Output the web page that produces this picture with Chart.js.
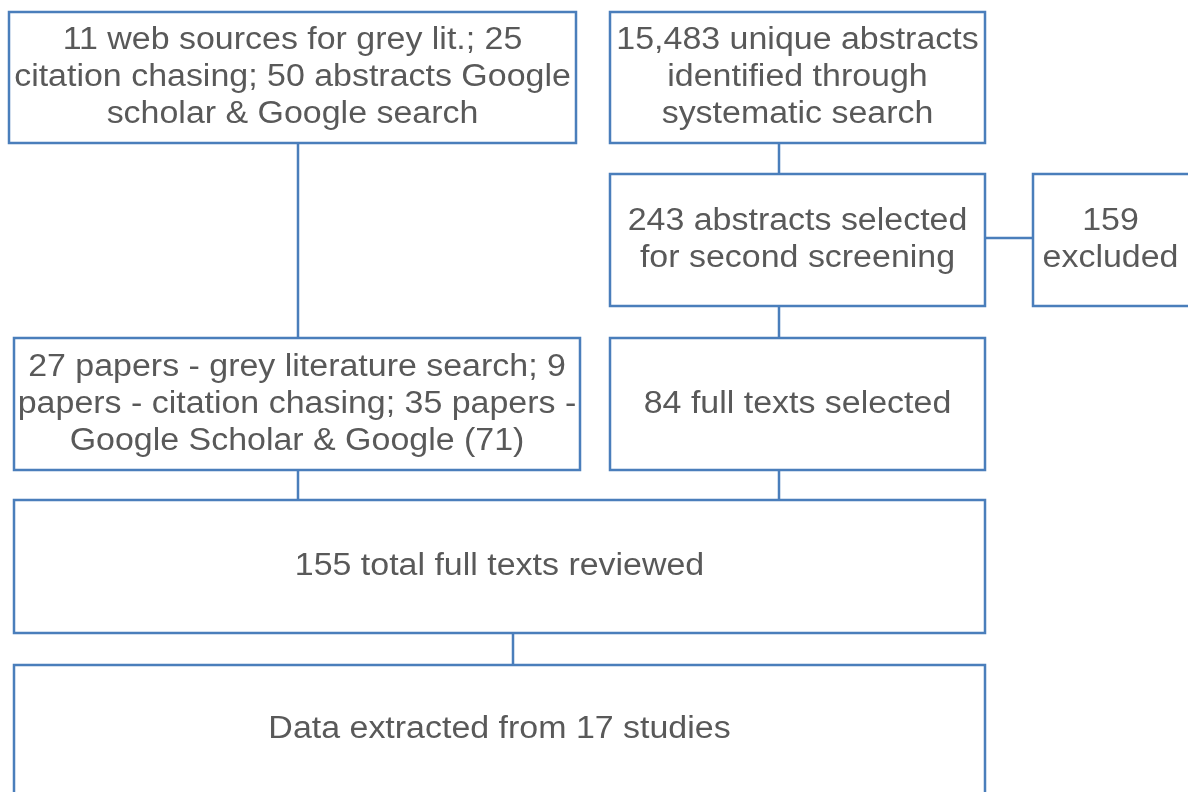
<!DOCTYPE html>
<html>
<head>
<meta charset="utf-8">
<script src="https://cdn.jsdelivr.net/npm/chart.js@4/dist/chart.umd.min.js"></script>
<style>
  html, body { margin: 0; padding: 0; background: #fff; }
  #flow { display: block; }
</style>
</head>
<body>
<canvas id="flow" width="1188" height="792"></canvas>
<script>
// flow boxes: text lines
var boxText = [
    ['11 web sources for grey lit.; 25', 'citation chasing; 50 abstracts Google', 'scholar & Google search'],
    ['15,483 unique abstracts', 'identified through', 'systematic search'],
    ['243 abstracts selected', 'for second screening'],
    ['159', 'excluded'],
    ['27 papers - grey literature search; 9', 'papers - citation chasing; 35 papers -', 'Google Scholar & Google (71)'],
    ['84 full texts selected'],
    ['155 total full texts reviewed'],
    ['Data extracted from 17 studies']
];
// box extents in page units (0..1188 across, 0..792 down)
var boxLeft   = [9,   610, 610, 1033, 14,  610, 14,  14];
var boxRight  = [576, 985, 985, 1192, 580, 985, 985, 985];
var boxTop    = [12,  12,  174, 174,  338, 338, 500, 665];
var boxBottom = [143, 143, 306, 306,  470, 470, 633, 794];

// connectors [x1, y1, x2, y2]
var links = [
    [298, 143, 298, 338],
    [779, 143, 779, 174],
    [985, 238, 1033, 238],
    [779, 306, 779, 338],
    [298, 470, 298, 500],
    [779, 470, 779, 500],
    [513, 633, 513, 665]
];

var blue = '#4a7ebb';
var datasets = [];
boxText.forEach(function (t, i) {
    datasets.push({
        data: [
            {x: boxLeft[i], y: boxTop[i]},
            {x: boxRight[i], y: boxTop[i]},
            {x: boxRight[i], y: boxBottom[i]},
            {x: boxLeft[i], y: boxBottom[i]},
            {x: boxLeft[i], y: boxTop[i]}
        ],
        showLine: true,
        borderColor: blue,
        borderWidth: 2.5,
        borderCapStyle: 'square',
        borderJoinStyle: 'miter',
        pointRadius: 0,
        fill: false
    });
});
links.forEach(function (l) {
    datasets.push({
        data: [{x: l[0], y: l[1]}, {x: l[2], y: l[3]}],
        showLine: true,
        borderColor: blue,
        borderWidth: 2.5,
        pointRadius: 0,
        fill: false
    });
});

var boxLabels = {
    id: 'boxLabels',
    afterDatasetsDraw: function (chart) {
        var ctx = chart.ctx;
        var xs = chart.scales.x, ys = chart.scales.y;
        ctx.save();
        ctx.fillStyle = '#595959';
        ctx.font = '31px "Liberation Sans", Arial, sans-serif';
        ctx.textAlign = 'center';
        ctx.textBaseline = 'middle';
        var lh = 37;
        boxText.forEach(function (lines, i) {
            var right = Math.min(boxRight[i], 1188);
            var cx = xs.getPixelForValue((boxLeft[i] + right) / 2);
            var cy = ys.getPixelForValue((boxTop[i] + boxBottom[i]) / 2);
            var y0 = cy - (lines.length - 1) * lh / 2;
            lines.forEach(function (s, k) {
                ctx.save();
                ctx.translate(cx, y0 + k * lh);
                ctx.scale(1.095, 1); // text in the source is drawn a little wide
                ctx.fillText(s, 0, 0);
                ctx.restore();
            });
        });
        ctx.restore();
    }
};

new Chart(document.getElementById('flow').getContext('2d'), {
    type: 'scatter',
    data: {datasets: datasets},
    options: {
        responsive: false,
        animation: false,
        layout: {padding: 0},
        plugins: {legend: {display: false}, tooltip: {enabled: false}},
        scales: {
            x: {type: 'linear', min: 0, max: 1188, display: false},
            y: {type: 'linear', min: 0, max: 792, reverse: true, display: false}
        }
    },
    plugins: [boxLabels]
});
</script>
</body>
</html>
